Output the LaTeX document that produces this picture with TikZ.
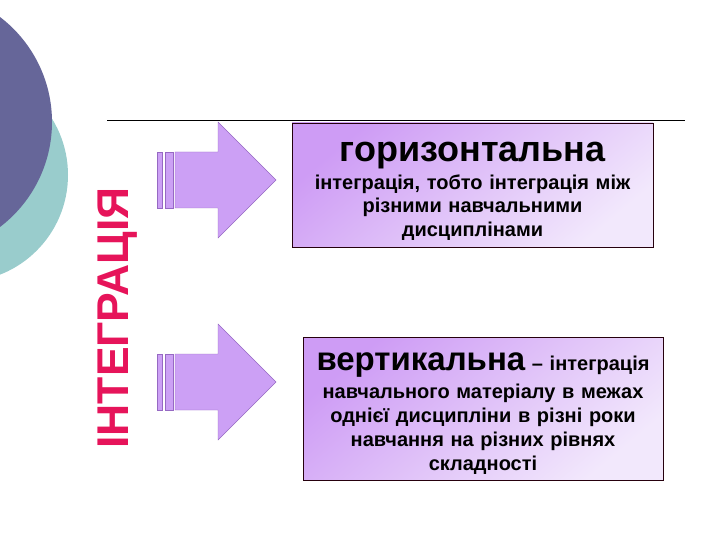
\documentclass[tikz,border=0pt]{standalone}
\usepackage{fontspec}
\setmainfont{Liberation Sans}
\newcommand{\bigword}{\bfseries\fontsize{36}{40}\selectfont}
\newcommand{\midword}{\bfseries\fontsize{33}{38}\selectfont}
\begin{document}
\begin{tikzpicture}[x=1pt,y=-1pt]
        %colores
        \definecolor{darkc}{RGB}{102,102,153}
        \definecolor{tealc}{RGB}{153,204,204}
        \definecolor{arrowc}{RGB}{204,160,245}
        \definecolor{arrowb}{RGB}{150,105,195}
        \definecolor{boxa}{RGB}{206,156,245}
        \definecolor{boxb}{RGB}{242,232,252}
        \definecolor{titlec}{RGB}{230,20,90}
        \tikzset{
            kindbox/.style={draw=black!80!purple, thin, top color=boxa, bottom color=boxb,
                shading angle=40, inner sep=0pt},
            kindtext/.style={align=center, inner sep=0pt, text=black, text width=358pt,
                anchor=base, font=\bfseries\fontsize{20}{23.2}\selectfont}
        }
        \useasboundingbox (0,0) rectangle (720,540);
        \clip (0,0) rectangle (720,540);

        % circulos
        \fill[tealc] (-39,175) circle (107);
        \fill[darkc] (-80,122) circle (132);

        % linea
        \draw[black, thin] (107,120) -- (685,120);

        % titulo vertical
        \node[rotate=90, text=titlec, font=\bfseries\fontsize{44.5}{46}\selectfont] (title) at (118,318) {ІНТЕГРАЦІЯ};

        % flechas
        \foreach \yc in {180,382}{
            \filldraw[arrowc, draw=arrowb, thin] (157,\yc-28) rectangle (162,\yc+28);
            \filldraw[arrowc, draw=arrowb, thin] (165,\yc-28) rectangle (173,\yc+28);
            \filldraw[arrowc, draw=arrowb, thin] (175,\yc-28) -- (218,\yc-28) -- (218,\yc-58)
                -- (276,\yc) -- (218,\yc+58) -- (218,\yc+28) -- (175,\yc+28) -- cycle;
        }

        % cajas
        \node[kindbox, minimum width=361pt, minimum height=124pt] (horiz) at (472.5,185) {};
        \node[kindbox, minimum width=360pt, minimum height=143pt] (vert) at (483,408.5) {};

        % textos
        \node[kindtext] (horiztext) at (472.5,162)
            {{\bigword горизонтальна}\\[4.5pt]
             інтеграція, тобто інтеграція між\\ різними навчальними\\ дисциплінами};
        \node[kindtext, font=\bfseries\fontsize{20}{23.9}\selectfont] (verttext) at (483,370)
            {{\midword вертикальна} – інтеграція\\[4.5pt]
             навчального матеріалу в межах\\ однієї дисципліни в різні роки\\
             навчання на різних рівнях\\ складності};
\end{tikzpicture}
\end{document}
